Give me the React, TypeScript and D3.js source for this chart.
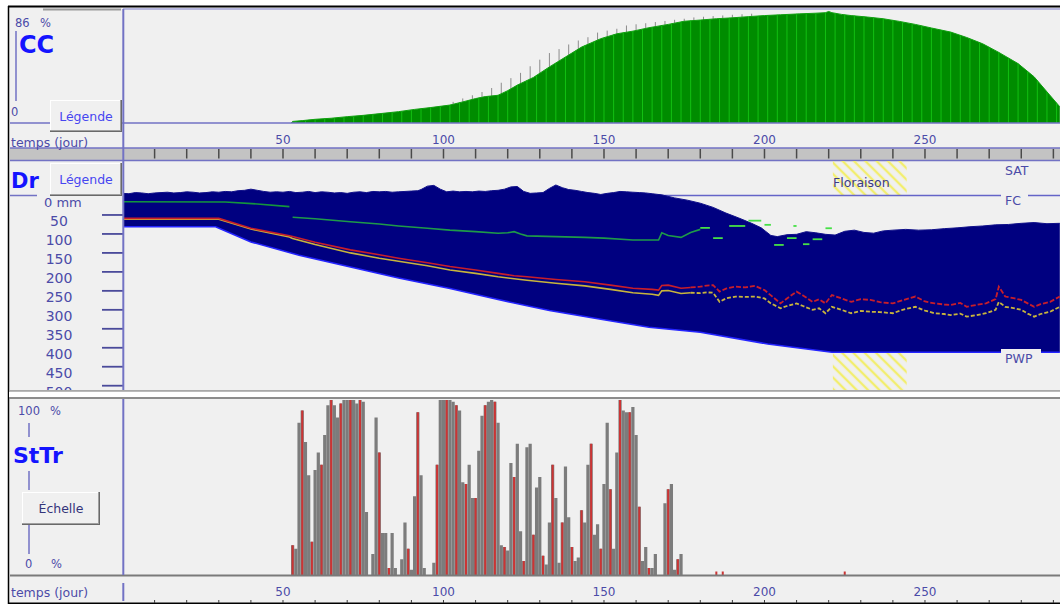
import React from "react";
import * as d3 from "d3";

type Pt = [number, number];

// Canopy cover CC (%) by day after sowing
const ccSeries: Pt[] = [
  [52.5, 0], [53, 1.2], [56, 1.8], [60, 2.8], [65, 3.6], [70, 4.8], [75, 5.8], [81, 7.3],
  [86, 8.6], [91, 10.3], [96, 11.7], [102, 13.6], [106, 16], [110, 18.5], [113, 20], [117, 21],
  [120, 24.5], [123, 28.7], [128, 34.5], [133, 42.5], [138, 50], [143, 57.5], [149, 63.9],
  [154, 67.6], [159, 69.6], [164, 72.2], [170, 74.7], [175, 77.1], [180, 78], [185, 79],
  [190, 79.7], [195, 80.6], [200, 81.4], [205, 82], [211, 82.7], [216, 83.2], [219, 83.6],
  [220, 84.5], [221, 83.6], [224, 82.3], [227, 81.4], [232, 80.3], [237, 79], [242, 77],
  [247, 74.7], [252, 72], [258, 68.9], [263, 64.8], [268, 60], [273, 53.5], [279, 45],
  [284, 35], [288, 23.6], [292, 12.3],
];

// Potential canopy cover without water stress (%)
const ccPotSeries: Pt[] = [
  [103, 16], [106, 18.6], [109, 21], [112, 23.5], [115, 26.5], [118, 30.5], [121, 34],
  [124, 38], [127, 43], [130, 48], [133, 53], [136, 56], [139, 59.5], [142, 62.5], [145, 65],
  [148, 68.5], [151, 70], [154, 71.4], [157, 73.9], [160, 74.8], [163, 75.6], [166, 76.5],
  [169, 77.3], [172, 78.2], [175, 79], [178, 80], [181, 80.5], [184, 81], [187, 81.5],
  [190, 82], [193, 82.4], [196, 82.8],
];

// Upper edge of the root-zone water column, as depletion below FC (mm; negative = wetter than FC)
const drTop: Pt[] = [
  [0, -7], [2, -6], [4, -9], [6, -8], [8, -6], [10, -8], [12, -9], [14, -10], [16, -8], [18, -9],
  [20, -11], [22, -10], [24, -8], [26, -9], [28, -11], [30, -10], [32, -12], [34, -11], [36, -14],
  [38, -15], [40, -18], [42, -15], [44, -12], [46, -10], [48, -11], [50, -10], [52, -12], [54, -9],
  [56, -10], [58, -12], [60, -9], [62, -11], [64, -10], [66, -8], [68, -9], [70, -7], [72, -10],
  [74, -11], [76, -9], [78, -12], [80, -11], [82, -12], [84, -10], [86, -11], [88, -12], [90, -13],
  [92, -14], [93, -17], [95, -26], [97, -28], [99, -18], [101, -11], [103, -13], [105, -11],
  [107, -12], [109, -11], [111, -13], [113, -12], [115, -14], [117, -15], [119, -18], [121, -24],
  [123, -25], [125, -12], [127, -7], [129, -8], [131, -9], [133, -20], [135, -29], [137, -22],
  [139, -17], [141, -15], [143, -12], [145, -9], [147, -7], [149, -4], [151, -7], [153, -9],
  [155, -12], [157, -11], [159, -10], [161, -9], [163, -8], [165, -6], [168, -3], [172, 5],
  [176, 11], [180, 19], [184, 30], [188, 45], [192, 58], [196, 72], [199, 84], [202, 104],
  [204, 107], [207, 102], [210, 101], [213, 94], [216, 97], [219, 101], [222, 103], [225, 93],
  [228, 90], [231, 96], [234, 98], [237, 92], [240, 90], [244, 88], [248, 90], [252, 89],
  [256, 86], [260, 84], [264, 81], [268, 79], [272, 76], [276, 75], [280, 72], [284, 70],
  [288, 73], [292, 72],
];

// Permanent wilting point of the growing root zone (mm below FC)
const drPwp: Pt[] = [
  [0, 81], [29, 81], [40, 121], [55, 156], [71, 187], [86, 216], [102, 244], [117, 273],
  [133, 302], [149, 325], [164, 346], [180, 359], [201, 390], [221, 412], [292, 412],
];

// Canopy expansion threshold (mm)
const expansionEarly: Pt[] = [[0, 15], [32, 16], [42, 21], [52, 28]];
const expansionMain: Pt[] = [
  [53, 56], [60, 60], [71, 68], [80, 74], [86, 79], [95, 85], [102, 90], [110, 94], [117, 98],
  [120, 97], [122, 94], [124, 100], [126, 105], [135, 107], [144, 109], [150, 111], [159, 116],
  [167, 116], [168, 97], [170, 104], [174, 109], [177, 96], [180, 88],
];
// Late, broken pieces of the expansion threshold: [from day, to day, mm]
const expansionLate: [number, number, number][] = [
  [180, 183, 84], [184, 187, 111], [189, 194, 79], [195, 199, 65], [200, 202, 76],
  [203, 206, 129], [207, 210, 111], [209, 210, 79], [212, 214, 127], [215, 218, 114],
  [219, 221, 85],
];

// Stomatal closure threshold (mm)
const stomata: Pt[] = [
  [0, 59], [30, 59], [40, 85], [52, 105], [53, 107], [60, 122], [71, 142], [80, 155], [86, 164],
  [95, 176], [102, 186], [110, 195], [117, 204], [122, 210], [126, 213], [135, 220], [144, 226],
  [152, 235], [159, 243], [165, 246], [167, 248], [168, 236], [170, 235], [174, 243], [177, 241],
  [180, 239], [182, 236], [184, 235], [186, 252], [188, 244], [191, 239], [194, 241], [197, 237],
  [200, 248], [202, 262], [205, 283], [207, 270], [210, 252], [212, 262], [215, 279], [217, 272],
  [219, 283], [221, 261], [224, 270], [227, 279], [230, 272], [233, 274], [236, 280], [240, 283],
  [243, 275], [247, 265], [250, 278], [253, 283], [256, 286], [258, 287], [261, 282], [263, 292],
  [266, 287], [269, 283], [272, 272], [273, 239], [275, 265], [278, 270], [280, 274], [282, 283],
  [284, 292], [286, 285], [289, 279], [292, 265],
];

// Early senescence threshold (mm)
const senescence: Pt[] = [
  [0, 61], [30, 61], [40, 87], [52, 108], [53, 112], [60, 128], [71, 150], [80, 164], [86, 172],
  [95, 184], [102, 195], [110, 204], [117, 213], [122, 218], [126, 222], [135, 230], [144, 237],
  [152, 246], [159, 255], [165, 259], [167, 262], [168, 250], [170, 249], [174, 257], [177, 255],
  [180, 256], [182, 254], [184, 255], [186, 279], [188, 270], [191, 265], [194, 266], [197, 265],
  [200, 270], [202, 283], [205, 296], [207, 290], [210, 283], [212, 290], [215, 300], [217, 296],
  [219, 309], [221, 292], [224, 300], [227, 309], [230, 303], [233, 305], [236, 306], [240, 309],
  [243, 300], [247, 292], [250, 302], [253, 309], [256, 311], [258, 314], [261, 310], [263, 318],
  [266, 314], [269, 309], [272, 300], [273, 279], [275, 292], [278, 296], [280, 300], [282, 310],
  [284, 318], [286, 311], [289, 305], [292, 292],
];
// From this day on the threshold lines break up into short dashes
const brokenFromDay = 177;

// Water stress on transpiration StTr (%), one value per day from day 53
const stressStartDay = 53;
const stressValues = [
  17, 15, 87, 94, 76, 57, 19, 60, 70, 63,
  80, 97, 100, 97, 90, 98, 100, 100, 100, 100,
  98, 100, 99, 36, 0, 12, 90, 70, 24, 24,
  4, 24, 4, 0, 9, 30, 15, 3, 45, 93,
  57, 4, 0, 0, 7, 63, 100, 100, 100, 100,
  99, 97, 94, 53, 52, 63, 44, 44, 71, 91,
  97, 99, 100, 99, 87, 17, 16, 14, 64, 56,
  75, 25, 8, 73, 75, 23, 50, 56, 11, 6,
  30, 63, 44, 7, 30, 62, 33, 16, 8, 10,
  37, 30, 63, 75, 23, 29, 15, 52, 87, 49,
  15, 70, 100, 94, 93, 93, 96, 80, 39, 8,
  16, 4, 4, 12, 0, 0, 41, 49, 52, 3,
  9, 12,
];
const stressLate: Pt[] = [[185, 2], [187, 2], [225, 2]];

const dayLabels = [50, 100, 150, 200, 250];
const drTickValues = [50, 100, 150, 200, 250, 300, 350, 400, 450, 500];
const flowering: [number, number] = [221.3, 244.3];
const ccMax = 86;
const dayMax = 292;

const FONT = "'DejaVu Sans', Verdana, sans-serif";
const AXIS = "#4b4ba8";
const FRAME = "#7272c4";
const TITLE = "#1414ff";

function Button({ x, y, w, h, label, color }: { x: number; y: number; w: number; h: number; label: string; color: string }) {
  return (
    <g>
      <rect x={x} y={y} width={w} height={h} fill="#f0f0f0" />
      <line x1={x} y1={y + 0.5} x2={x + w} y2={y + 0.5} stroke="#ffffff" />
      <line x1={x + 0.5} y1={y} x2={x + 0.5} y2={y + h} stroke="#ffffff" />
      <line x1={x} y1={y + h - 1.5} x2={x + w - 1} y2={y + h - 1.5} stroke="#a0a0a0" />
      <line x1={x + w - 1.5} y1={y} x2={x + w - 1.5} y2={y + h - 1} stroke="#a0a0a0" />
      <line x1={x} y1={y + h - 0.5} x2={x + w} y2={y + h - 0.5} stroke="#696969" />
      <line x1={x + w - 0.5} y1={y} x2={x + w - 0.5} y2={y + h} stroke="#696969" />
      <text x={x + w / 2} y={y + h / 2 + 4.5} textAnchor="middle" fontSize={12.5} fill={color} fontFamily={FONT}>
        {label}
      </text>
    </g>
  );
}

export default function App() {
  const x = d3.scaleLinear().domain([0, dayMax]).range([122.5, 1059.8]);
  const yCC = d3.scaleLinear().domain([0, ccMax]).range([123, 9.5]);
  const yDr = d3.scaleLinear().domain([0, 500]).range([196, 385.7]);
  const ySt = d3.scaleLinear().domain([0, 100]).range([575, 400]);

  const ccArea = d3.area<Pt>().x((d) => x(d[0])).y0(yCC(0)).y1((d) => yCC(d[1]));
  const ccLine = d3.line<Pt>().x((d) => x(d[0])).y((d) => yCC(d[1]));
  const drLine = d3.line<Pt>().x((d) => x(d[0])).y((d) => yDr(d[1]));
  const waterPath = drLine([...drTop, ...drPwp.slice().reverse()]) + "Z";

  const solid = (s: Pt[]) => s.filter((d) => d[0] <= brokenFromDay);
  const broken = (s: Pt[]) => s.filter((d) => d[0] >= brokenFromDay);

  const ccStripeDays = d3.range(54, dayMax, 3);
  const dayTicks = d3.range(10, dayMax, 10);
  const dayW = x(1) - x(0);

  const stressBars = stressValues.map((v, i) => ({ day: stressStartDay + i, v }));

  return (
    <svg width={1060} height={604} style={{ position: "absolute", left: 0, top: 0, display: "block" }} fontFamily={FONT}>
      <defs>
        <clipPath id="ccClip">
          <path d={ccArea(ccSeries) ?? ""} />
        </clipPath>
        <clipPath id="drClip">
          <rect x={123} y={161} width={940} height={229} />
        </clipPath>
        <clipPath id="drAxisClip">
          <rect x={10} y={161} width={114} height={229} />
        </clipPath>
        <pattern id="hatch" width={8} height={8} patternUnits="userSpaceOnUse" patternTransform="rotate(-45)">
          <line x1={2} y1={0} x2={2} y2={8} stroke="#f2ee6e" strokeWidth={2.4} />
        </pattern>
      </defs>

      {/* page and outer frame */}
      <rect x={0} y={0} width={1060} height={604} fill="#ffffff" />
      <rect x={9} y={7} width={1051} height={596} fill="#f0f0f0" />
      <line x1={8} y1={6.5} x2={1060} y2={6.5} stroke="#000" strokeWidth={2} />
      <line x1={8.5} y1={6} x2={8.5} y2={604} stroke="#000" strokeWidth={1.5} />
      <line x1={8} y1={603.3} x2={1060} y2={603.3} stroke="#000" strokeWidth={1.6} />
      <line x1={43} y1={9.5} x2={121} y2={9.5} stroke="#9a9a9a" strokeWidth={2} />

      {/* ---------- CC panel ---------- */}
      <line x1={123} y1={9} x2={1060} y2={9} stroke="#a4a4d8" strokeWidth={1.5} />
      {ccPotSeries.map(([d, v]) => (
        <line key={`p${d}`} x1={x(d)} x2={x(d)} y1={yCC(0)} y2={yCC(v)} stroke="#8c8c8c" strokeWidth={1} />
      ))}
      <path d={ccArea(ccSeries) ?? ""} fill="#008c00" />
      <g clipPath="url(#ccClip)">
        {ccStripeDays.map((d) => (
          <line key={`s${d}`} x1={x(d)} x2={x(d)} y1={9} y2={123} stroke="#12c012" strokeWidth={1} />
        ))}
      </g>
      <path d={ccLine(ccSeries) ?? ""} fill="none" stroke="#10a010" strokeWidth={1} />
      <line x1={10} y1={123} x2={1060} y2={123} stroke={FRAME} strokeWidth={1.5} />

      <text x={15} y={27} fontSize={11.5} fill={AXIS}>86</text>
      <text x={40} y={27} fontSize={11.5} fill={AXIS}>%</text>
      <line x1={16} y1={31} x2={16} y2={101} stroke={FRAME} strokeWidth={1.5} />
      <text x={19} y={53} fontSize={24} fontWeight="bold" fill={TITLE}>CC</text>
      <text x={11} y={116} fontSize={11.5} fill={AXIS}>0</text>
      <Button x={50} y={100} w={72} h={32} label="Légende" color="#4646f0" />

      {/* ---------- time strip ---------- */}
      <rect x={10} y={148} width={1050} height={12.5} fill="#c3c3c3" />
      <line x1={10} y1={148} x2={1060} y2={148} stroke={FRAME} strokeWidth={1.5} />
      <line x1={10} y1={160.5} x2={1060} y2={160.5} stroke={FRAME} strokeWidth={1.5} />
      <text x={11} y={147} fontSize={12.5} fill={AXIS}>temps (jour)</text>
      {dayLabels.map((d) => (
        <text key={`tl${d}`} x={x(d)} y={144} textAnchor="middle" fontSize={12} fill={AXIS}>{d}</text>
      ))}
      {dayTicks.map((d) => (
        <line key={`tt${d}`} x1={x(d)} x2={x(d)} y1={149} y2={158.5} stroke="#4a4a4a" strokeWidth={1.5} />
      ))}

      {/* ---------- Dr panel ---------- */}
      <g clipPath="url(#drClip)">
        <rect x={x(flowering[0])} y={161} width={x(flowering[1]) - x(flowering[0])} height={yDr(0) - 161} fill="url(#hatch)" />
        <rect x={x(flowering[0])} y={yDr(412)} width={x(flowering[1]) - x(flowering[0])} height={390 - yDr(412)} fill="url(#hatch)" />
        <line x1={123} y1={yDr(0) - 0.5} x2={1060} y2={yDr(0) - 0.5} stroke="#6464c8" strokeWidth={1.6} />
        <path d={waterPath} fill="#000080" />
        <path d={drLine(drTop) ?? ""} fill="none" stroke="#10108a" strokeWidth={1} />
        <path d={drLine(drPwp) ?? ""} fill="none" stroke="#2424ff" strokeWidth={1.6} />
        <path d={drLine(solid(senescence)) ?? ""} fill="none" stroke="#c8b43c" strokeWidth={1.6} />
        <path d={drLine(broken(senescence)) ?? ""} fill="none" stroke="#c8b43c" strokeWidth={1.8} strokeDasharray="4 2" />
        <path d={drLine(solid(stomata)) ?? ""} fill="none" stroke="#c81e2a" strokeWidth={1.6} />
        <path d={drLine(broken(stomata)) ?? ""} fill="none" stroke="#c81e2a" strokeWidth={1.8} strokeDasharray="5 2" />
        <path d={drLine(expansionEarly) ?? ""} fill="none" stroke="#14963c" strokeWidth={1.6} />
        <path d={drLine(expansionMain) ?? ""} fill="none" stroke="#1e9a48" strokeWidth={1.6} />
        {expansionLate.map(([d0, d1, v], i) => (
          <line key={`el${i}`} x1={x(d0)} x2={x(d1)} y1={yDr(v)} y2={yDr(v)} stroke="#46e046" strokeWidth={1.8} />
        ))}
        <rect x={1001} y={163} width={33} height={13} fill="#f0f0f0" />
        <text x={1005} y={175} fontSize={12.5} fill={AXIS}>SAT</text>
        <rect x={1001} y={189} width={27} height={15} fill="#f0f0f0" />
        <text x={1005} y={205} fontSize={12.5} fill={AXIS}>FC</text>
        <rect x={1001} y={349} width={40} height={16} fill="#f0f0f0" />
        <text x={1005} y={363} fontSize={12.5} fill={AXIS}>PWP</text>
        <text x={833} y={187} fontSize={12.5} fill="#3c3c84">Floraison</text>
      </g>

      <g clipPath="url(#drAxisClip)">
        {drTickValues.map((v) => (
          <g key={`dt${v}`}>
            <line x1={102} x2={123} y1={yDr(v)} y2={yDr(v)} stroke="#4a4a9a" strokeWidth={1.8} />
            <text x={59} y={yDr(v) + 11.5} textAnchor="middle" fontSize={14} fill={AXIS}>{v}</text>
          </g>
        ))}
        <text x={44} y={yDr(0) + 10.5} fontSize={13} fill={AXIS}>0 mm</text>
      </g>
      <line x1={10} y1={195.5} x2={37} y2={195.5} stroke={FRAME} strokeWidth={1.5} />
      <text x={11} y={188} fontSize={21} fontWeight="bold" fill={TITLE}>Dr</text>
      <Button x={50} y={163} w={72} h={33} label="Légende" color="#4646f0" />

      {/* splitter between panels */}
      <line x1={9} y1={390.8} x2={1060} y2={390.8} stroke="#a8a8a8" strokeWidth={1.8} />
      <rect x={9} y={392} width={1051} height={5} fill="#ffffff" />
      <line x1={9} y1={398} x2={1060} y2={398} stroke="#8c8c8c" strokeWidth={2} />

      {/* ---------- StTr panel ---------- */}
      {stressBars.map(({ day, v }) => (
        <rect key={`sb${day}`} x={x(day) - dayW / 2} y={ySt(v)} width={dayW} height={ySt(0) - ySt(v)} fill="#7c7c7c" />
      ))}
      {stressBars
        .filter(({ day }) => day % 3 === 2)
        .map(({ day, v }) => (
          <rect key={`sr${day}`} x={x(day) - 1} y={ySt(v)} width={2} height={ySt(0) - ySt(v)} fill="#cc3434" />
        ))}
      {stressLate.map(([d, v]) => (
        <rect key={`sl${d}`} x={x(d) - 1} y={ySt(v)} width={2} height={ySt(0) - ySt(v)} fill="#cc3434" />
      ))}
      <line x1={10} y1={575.5} x2={1060} y2={575.5} stroke="#7a7a7a" strokeWidth={2} />

      <text x={18} y={415} fontSize={11.5} fill={AXIS}>100</text>
      <text x={50} y={415} fontSize={11.5} fill={AXIS}>%</text>
      <line x1={29} y1={423} x2={29} y2={437} stroke={FRAME} strokeWidth={1.5} />
      <text x={13} y={463} fontSize={22} fontWeight="bold" fill={TITLE}>StTr</text>
      <line x1={29} y1={471} x2={29} y2={490} stroke={FRAME} strokeWidth={1.5} />
      <line x1={29} y1={525} x2={29} y2={554} stroke={FRAME} strokeWidth={1.5} />
      <text x={25} y={568} fontSize={11.5} fill={AXIS}>0</text>
      <text x={51} y={568} fontSize={11.5} fill={AXIS}>%</text>
      <Button x={22} y={492} w={78} h={33} label="Échelle" color="#34347a" />

      {/* ---------- bottom time axis ---------- */}
      <text x={11} y={597} fontSize={12.5} fill={AXIS}>temps (jour)</text>
      {dayLabels.map((d) => (
        <text key={`bl${d}`} x={x(d)} y={596} textAnchor="middle" fontSize={12} fill={AXIS}>{d}</text>
      ))}
      {dayTicks.map((d) => (
        <line key={`bt${d}`} x1={x(d)} x2={x(d)} y1={600} y2={603} stroke="#3a3a3a" strokeWidth={1} />
      ))}

      {/* vertical axis line shared by the panels */}
      <line x1={123.3} y1={9} x2={123.3} y2={390} stroke={FRAME} strokeWidth={2} />
      <line x1={123.3} y1={399} x2={123.3} y2={575} stroke={FRAME} strokeWidth={2} />
      <line x1={123.3} y1={583} x2={123.3} y2={601} stroke={FRAME} strokeWidth={2} />
    </svg>
  );
}
